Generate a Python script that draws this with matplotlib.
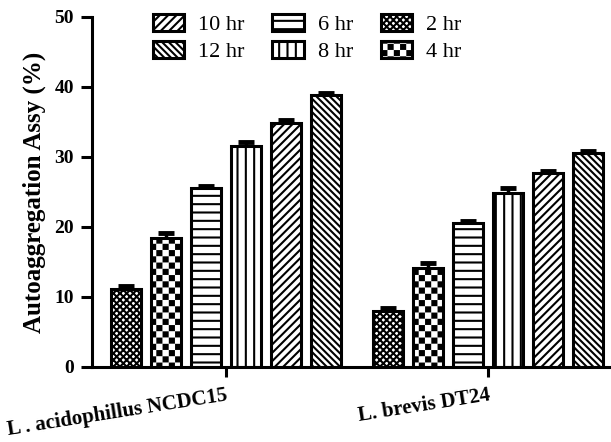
import warnings
import matplotlib
matplotlib.use("Agg")
import matplotlib.pyplot as plt
import matplotlib.hatch as mhatch
from matplotlib.path import Path
import numpy as np

warnings.filterwarnings("ignore")

plt.rcParams['font.family'] = 'Liberation Serif'
plt.rcParams['hatch.linewidth'] = 1.5


# checkerboard hatch, 'c' -> 8 cells per hatch unit per character
class CheckerHatch(mhatch.HatchPatternBase):
    def __init__(self, hatch, density):
        self.n = hatch.count('c') * 8
        self.num_vertices = (self.n * self.n // 2) * 5

    def set_vertices_and_codes(self, vertices, codes):
        s = 1.0 / self.n
        g = 0.011  # shrink so the hatch stroke doesn't close the gaps
        sq = np.array([[g, g], [s - g, g], [s - g, s - g], [g, s - g], [g, g]])
        cc = [Path.MOVETO, Path.LINETO, Path.LINETO, Path.LINETO, Path.CLOSEPOLY]
        k = 0
        for i in range(self.n):
            for j in range(self.n):
                if (i + j) % 2 == 0:
                    vertices[k:k + 5] = sq + [i * s, j * s]
                    codes[k:k + 5] = cc
                    k += 5


mhatch._hatch_types.append(CheckerHatch)

strains = ["L . acidophillus NCDC15", "L. brevis DT24"]
times = ["2 hr", "4 hr", "6 hr", "8 hr", "10 hr", "12 hr"]
hatches = ["xxxxx", "cc", "--", "||", "////", "\\\\\\\\\\"]

# values per time point: [NCDC15, DT24]
vals = {
    "2 hr": [11.1, 8.0],
    "4 hr": [18.4, 14.2],
    "6 hr": [25.6, 20.6],
    "8 hr": [31.5, 24.8],
    "10 hr": [34.8, 27.7],
    "12 hr": [38.8, 30.5],
}
errs = {
    "2 hr": [0.5, 0.4],
    "4 hr": [0.7, 0.6],
    "6 hr": [0.3, 0.3],
    "8 hr": [0.6, 0.7],
    "10 hr": [0.5, 0.3],
    "12 hr": [0.3, 0.3],
}

fig = plt.figure(figsize=(6.11, 4.42), dpi=100)
ax = fig.add_axes([0.1506, 0.1697, 0.8494, 0.7919])

x = np.arange(len(strains))
pitch = 0.153
width = 0.115
handles = {}
for i, t in enumerate(times):
    pos = x + (i - 2.5) * pitch
    b = ax.bar(pos, vals[t], width, color="white", edgecolor="black",
               linewidth=2.2, hatch=hatches[i], label=t, zorder=2)
    ax.errorbar(pos, vals[t], yerr=errs[t], fmt="none", ecolor="black",
                elinewidth=2.5, capsize=6, capthick=3.5, zorder=1)
    handles[t] = b

order = ["10 hr", "12 hr", "6 hr", "8 hr", "2 hr", "4 hr"]
ax.legend([handles[t] for t in order], order, ncol=3, frameon=False,
          loc="upper left", bbox_to_anchor=(153 / 611, 1 - 14 / 442),
          bbox_transform=fig.transFigure, borderpad=0, borderaxespad=0,
          fontsize=16, handlelength=1.4, handleheight=0.77,
          columnspacing=1.26, labelspacing=0.27, handletextpad=0.63)

ax.set_xlim(-0.511, 1.469)
ax.set_ylim(0, 50)
ax.set_yticks([0, 10, 20, 30, 40, 50])
ax.set_xticks(x)
ax.set_xticklabels(strains, rotation=9, ha="right", va="top",
                   rotation_mode="anchor", fontweight="bold", fontsize=15)
for lbl in ax.get_yticklabels():
    lbl.set_fontweight("bold")
    lbl.set_fontsize(14)
ax.set_ylabel("Autoaggregation Assy (%)", fontweight="bold", fontsize=18,
              labelpad=6)

ax.spines["top"].set_visible(False)
ax.spines["right"].set_visible(False)
ax.spines["left"].set_linewidth(2.2)
ax.spines["bottom"].set_linewidth(2.2)
ax.tick_params(axis="y", width=2.2, length=8, pad=5)
ax.tick_params(axis="x", width=2.2, length=7, pad=6)

fig.savefig("out.png", dpi=100)
